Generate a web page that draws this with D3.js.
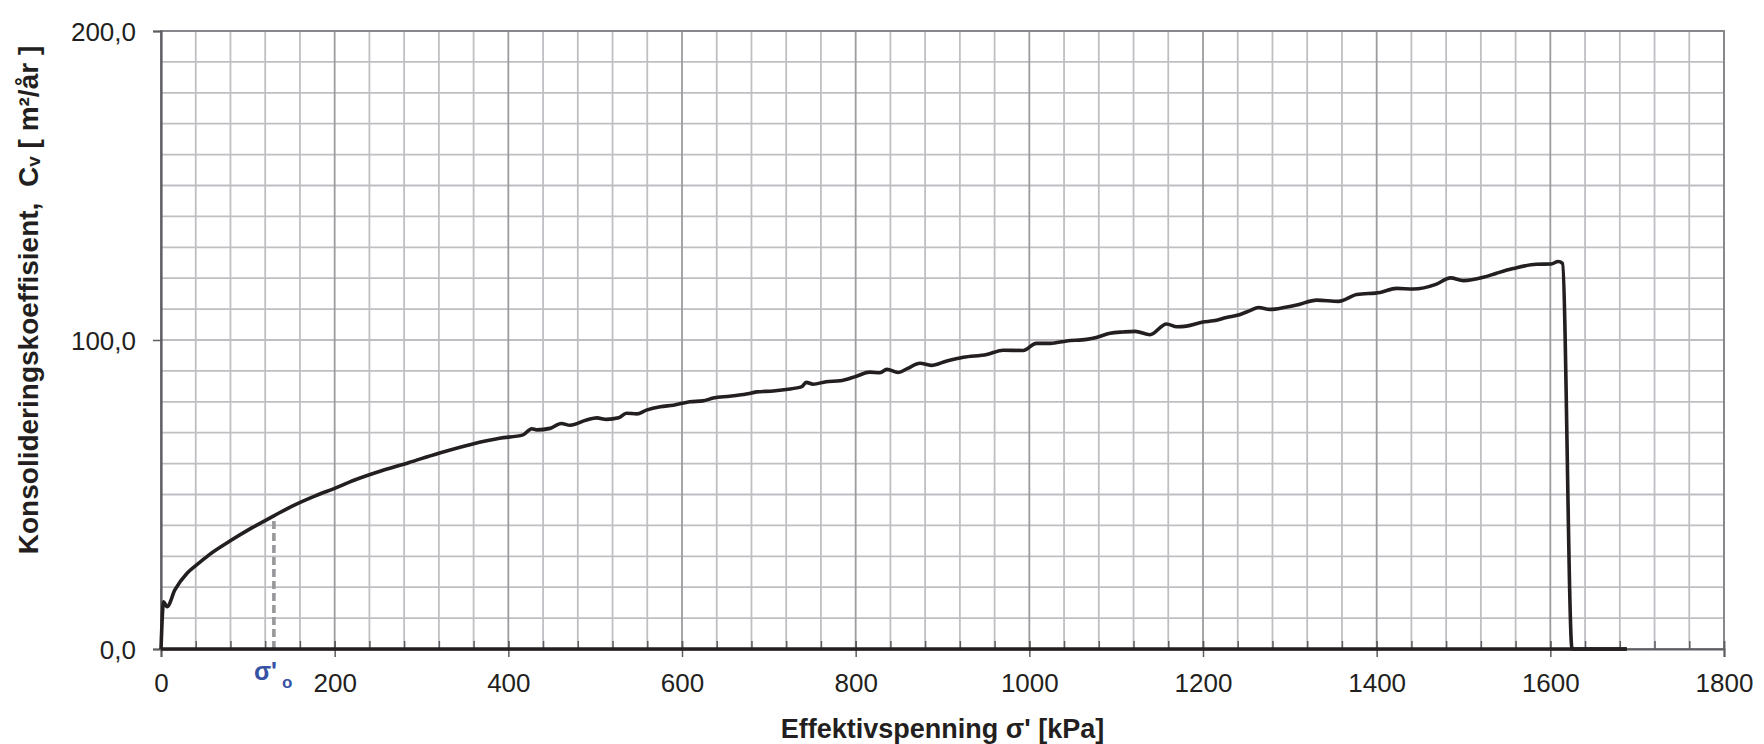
<!DOCTYPE html>
<html>
<head>
<meta charset="utf-8">
<script src="https://cdn.jsdelivr.net/npm/d3@7"></script>
<style>
  body { margin: 0; background: #fff; }
  text { font-family: "Liberation Sans", Arial, sans-serif; fill: #231f20; }
</style>
</head>
<body>
<div id="chart"></div>
<script>
// effective stress [kPa] and Cv [m2/year]
const stress = [0, 3, 7, 16, 30, 41, 55, 78, 104, 130, 150, 177, 200, 223, 254, 285, 319, 358, 390, 417, 427, 433, 448, 461, 471, 490, 502, 513, 527, 536, 548, 559, 575, 590, 609, 624, 636, 655, 674, 686, 705, 720, 738, 743, 751, 766, 782, 801, 816, 828, 836, 849, 860, 874, 887, 905, 924, 951, 970, 993, 1008, 1024, 1043, 1066, 1077, 1093, 1108, 1122, 1139, 1158, 1170, 1181, 1200, 1212, 1227, 1242, 1254, 1264, 1277, 1295, 1308, 1331, 1356, 1377, 1404, 1423, 1442, 1469, 1485, 1500, 1523, 1538, 1557, 1584, 1601, 1609, 1614, 1625, 1688];
const cv = [0, 15.3, 13.7, 19.1, 24.5, 27.2, 30.4, 34.7, 39.1, 43.1, 46.1, 49.5, 52.0, 54.7, 57.7, 60.3, 63.3, 66.3, 68.2, 69.3, 71.3, 70.9, 71.4, 73.0, 72.4, 74.1, 74.8, 74.3, 74.8, 76.3, 76.1, 77.3, 78.4, 78.9, 80.0, 80.3, 81.2, 81.8, 82.5, 83.2, 83.5, 84.0, 84.9, 86.3, 85.7, 86.5, 86.8, 88.3, 89.6, 89.4, 90.5, 89.5, 90.8, 92.5, 91.8, 93.2, 94.4, 95.3, 96.7, 96.6, 98.9, 98.9, 99.7, 100.2, 100.8, 102.2, 102.6, 102.8, 101.7, 105.2, 104.3, 104.5, 105.8, 106.2, 107.3, 108.2, 109.5, 110.5, 109.9, 110.6, 111.3, 112.9, 112.5, 114.7, 115.4, 116.7, 116.5, 118.1, 120.1, 119.2, 120.3, 121.6, 123.1, 124.5, 124.6, 125.4, 124.8, 0, 0];
// load steps lying on the zero line
const baseStress = [0, 1688];
const baseCv = [0, 0];
// preconsolidation stress marker
const sigmaO = [130];
const sigmaOCv = [43.1];

const xTicks = [0, 200, 400, 600, 800, 1000, 1200, 1400, 1600, 1800];
const yTicks = [0, 100, 200];

const width = 1764, height = 744;
const margin = {left: 161, right: 40, top: 31, bottom: 95};

const svg = d3.select('#chart').append('svg')
  .attr('width', width)
  .attr('height', height);

const x = d3.scaleLinear().domain([0, 1800]).range([margin.left, width - margin.right]);
const y = d3.scaleLinear().domain([0, 200]).range([height - margin.bottom, margin.top]);

// grid
svg.append('g').selectAll('line')
  .data(d3.range(10, 200, 10))
  .join('line')
  .attr('x1', x(0)).attr('x2', x(1800))
  .attr('y1', d => y(d)).attr('y2', d => y(d))
  .attr('stroke', '#bfbfc3')
  .attr('stroke-width', 1.8);

svg.append('g').selectAll('line')
  .data(d3.range(40, 1800, 40))
  .join('line')
  .attr('x1', d => x(d)).attr('x2', d => x(d))
  .attr('y1', y(0)).attr('y2', y(200))
  .attr('stroke', d => d % 200 === 0 ? '#9c9ca0' : '#bfbfc3')
  .attr('stroke-width', 1.8);

svg.append('rect')
  .attr('x', x(0)).attr('y', y(200))
  .attr('width', x(1800) - x(0)).attr('height', y(0) - y(200))
  .attr('fill', 'none')
  .attr('stroke', '#88888c')
  .attr('stroke-width', 2);

// axes
const minorAxis = svg.append('g')
  .attr('transform', `translate(0,${y(0)})`)
  .call(d3.axisBottom(x).tickValues(d3.range(0, 1801, 40)).tickSize(-8).tickFormat(''));
minorAxis.select('.domain').remove();
minorAxis.selectAll('line').attr('stroke', '#5e5e62').attr('stroke-width', 1.5);

const xAxis = svg.append('g')
  .attr('transform', `translate(0,${y(0)})`)
  .call(d3.axisBottom(x).tickValues(xTicks).tickSize(8).tickFormat(d3.format('d')));
xAxis.select('.domain').attr('stroke', '#5e5e62').attr('stroke-width', 2);
xAxis.selectAll('line').attr('y1', -8).attr('stroke', '#5e5e62').attr('stroke-width', 1.5);
xAxis.selectAll('text')
  .attr('y', 43).attr('dy', 0)
  .style('font-size', '26px')
  .attr('fill', '#231f20');

const yAxis = svg.append('g')
  .attr('transform', `translate(${x(0)},0)`)
  .call(d3.axisLeft(y).tickValues(yTicks).tickSize(8).tickFormat(d => d3.format('.1f')(d).replace('.', ',')));
yAxis.select('.domain').attr('stroke', '#5e5e62').attr('stroke-width', 2.2);
yAxis.selectAll('line').attr('stroke', '#5e5e62').attr('stroke-width', 1.5);
yAxis.selectAll('text')
  .attr('x', -25)
  .attr('dy', '0.35em')
  .style('font-size', '26px')
  .attr('fill', '#231f20');

// sigma'o dashed marker
svg.append('line')
  .attr('x1', x(sigmaO[0])).attr('x2', x(sigmaO[0]))
  .attr('y1', y(0)).attr('y2', y(sigmaOCv[0]))
  .attr('stroke', '#98989c')
  .attr('stroke-width', 3.6)
  .attr('stroke-dasharray', '8,4');

// curves
const line = d3.line()
  .x(d => x(d[0]))
  .y(d => y(d[1]))
  .curve(d3.curveMonotoneX);

svg.append('path')
  .datum(baseStress.map((s, i) => [s, baseCv[i]]))
  .attr('d', d3.line().x(d => x(d[0])).y(d => y(d[1])))
  .attr('fill', 'none')
  .attr('stroke', '#231f20')
  .attr('stroke-width', 3.6);

svg.append('path')
  .datum(stress.map((s, i) => [s, cv[i]]))
  .attr('d', line)
  .attr('fill', 'none')
  .attr('stroke', '#231f20')
  .attr('stroke-width', 3.6)
  .attr('stroke-linejoin', 'round');

// sigma'o label
const sLabel = svg.append('text')
  .attr('x', x(sigmaO[0]) - 20)
  .attr('y', 680)
  .style('font-weight', 'bold')
  .style('font-size', '25px')
  .style('fill', '#3552a4');
sLabel.append('tspan').text("σ'");
sLabel.append('tspan').attr('dx', 5).attr('dy', 8).style('font-size', '17px').text('o');

// axis titles
svg.append('text')
  .attr('x', (x(0) + x(1800)) / 2)
  .attr('y', 738)
  .attr('text-anchor', 'middle')
  .style('font-weight', 'bold')
  .style('font-size', '27px')
  .text("Effektivspenning σ' [kPa]");

const yTitle = svg.append('text')
  .attr('transform', 'translate(38,300) rotate(-90)')
  .attr('text-anchor', 'middle')
  .style('font-weight', 'bold')
  .style('font-size', '28px')
  .style('white-space', 'pre');
yTitle.append('tspan').text('Konsolideringskoeffisient,  C');
yTitle.append('tspan').attr('dy', 2).style('font-size', '19px').text('v');
yTitle.append('tspan').attr('dy', -2).text(' [ m²/år ]');
</script>
</body>
</html>
